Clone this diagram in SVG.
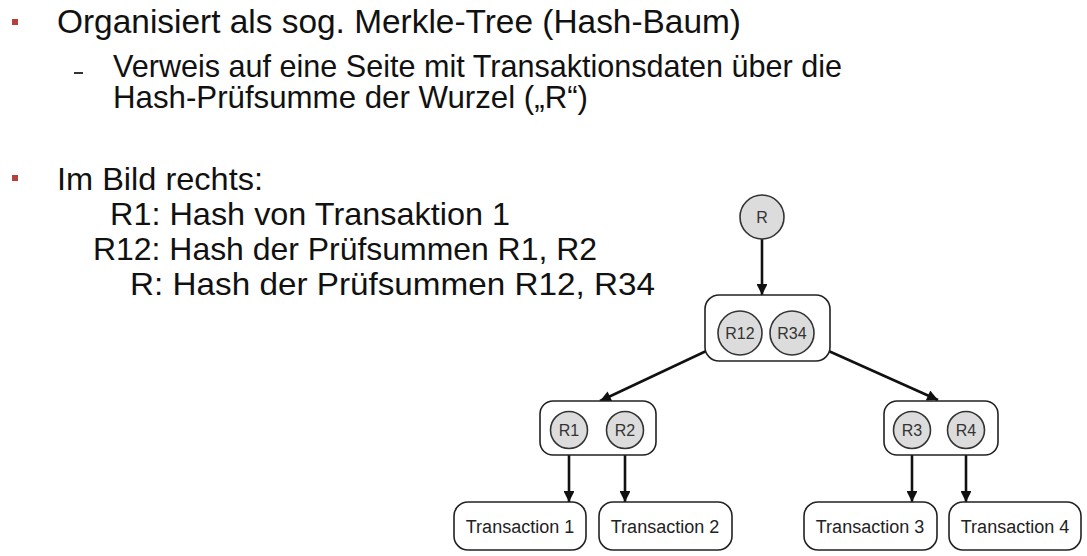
<svg xmlns="http://www.w3.org/2000/svg" width="1087" height="556" viewBox="0 0 1087 556">
<style>
.t1{font-family:"Liberation Sans",Arial,sans-serif;font-size:33px;fill:#111}
.t2{font-family:"Liberation Sans",Arial,sans-serif;font-size:30.5px;fill:#111}
.t3{font-family:"Liberation Sans",Arial,sans-serif;font-size:32px;fill:#111}
.bul{fill:#b5403c}
.circ{fill:#dcdcdc;stroke:#333;stroke-width:1.6}
.box{fill:#fff;stroke:#222;stroke-width:1.6}
.lbl{font-family:"Liberation Sans",Arial,sans-serif;font-size:16px;fill:#333;text-anchor:middle}
.tl{font-family:"Liberation Sans",Arial,sans-serif;font-size:18px;fill:#222;text-anchor:middle}
.arr{stroke:#111;stroke-width:2.6;fill:none;marker-end:url(#ah)}
</style>
<defs>
<marker id="ah" viewBox="0 0 10 10" refX="10" refY="5" markerWidth="4.6" markerHeight="4.2" orient="auto" markerUnits="strokeWidth">
<path d="M0,0 L10,5 L0,10 z" fill="#111"/>
</marker>
</defs>
<rect width="1087" height="556" fill="#fff"/>
<g id="text">
<rect class="bul" x="12" y="19" width="6" height="6"/>
<text class="t1" x="57" y="33" textLength="684" lengthAdjust="spacingAndGlyphs">Organisiert als sog. Merkle-Tree (Hash-Baum)</text>
<rect x="74" y="72" width="9" height="2" fill="#333"/>
<text class="t2" x="113" y="77" textLength="729" lengthAdjust="spacingAndGlyphs">Verweis auf eine Seite mit Transaktionsdaten über die</text>
<text class="t2" x="113" y="108" textLength="475" lengthAdjust="spacingAndGlyphs">Hash-Prüfsumme der Wurzel („R“)</text>
<rect class="bul" x="12" y="175" width="6" height="6"/>
<text class="t3" x="57" y="190" textLength="206" lengthAdjust="spacingAndGlyphs">Im Bild rechts:</text>
<text class="t3" x="110" y="225" textLength="400" lengthAdjust="spacingAndGlyphs">R1: Hash von Transaktion 1</text>
<text class="t3" x="93" y="260" textLength="504" lengthAdjust="spacingAndGlyphs">R12: Hash der Prüfsummen R1, R2</text>
<text class="t3" x="130" y="295" textLength="525" lengthAdjust="spacingAndGlyphs">R: Hash der Prüfsummen R12, R34</text>
</g>
<g id="connectors">
<line class="arr" x1="762" y1="239" x2="762" y2="295"/>
<line class="arr" x1="719" y1="345" x2="600" y2="401"/>
<line class="arr" x1="813" y1="344" x2="938" y2="400"/>
<line class="arr" x1="569" y1="449" x2="569" y2="502"/>
<line class="arr" x1="625" y1="449" x2="625" y2="502"/>
<line class="arr" x1="912" y1="449" x2="912" y2="502"/>
<line class="arr" x1="966" y1="449" x2="966" y2="502"/>
</g>
<g id="node-R">
<circle class="circ" cx="762" cy="217" r="22"/>
<text class="lbl" x="762" y="223">R</text>
</g>
<g id="node-R12R34">
<rect class="box" x="705" y="295" width="125" height="66" rx="14"/>
<circle class="circ" cx="740" cy="333" r="22"/>
<text class="lbl" x="740" y="339">R12</text>
<circle class="circ" cx="792" cy="333" r="22"/>
<text class="lbl" x="792" y="339">R34</text>
</g>
<g id="node-R1R2">
<rect class="box" x="540" y="401" width="116" height="54" rx="13"/>
<circle class="circ" cx="569" cy="430" r="18.5"/>
<text class="lbl" x="569" y="436">R1</text>
<circle class="circ" cx="625" cy="430" r="18.5"/>
<text class="lbl" x="625" y="436">R2</text>
</g>
<g id="node-R3R4">
<rect class="box" x="884" y="401" width="114" height="54" rx="13"/>
<circle class="circ" cx="912" cy="430" r="18.5"/>
<text class="lbl" x="912" y="436">R3</text>
<circle class="circ" cx="966" cy="430" r="18.5"/>
<text class="lbl" x="966" y="436">R4</text>
</g>
<g id="node-T1">
<rect class="box" x="454" y="502" width="132" height="48" rx="14"/>
<text class="tl" x="520" y="533">Transaction 1</text>
</g>
<g id="node-T2">
<rect class="box" x="599" y="502" width="133" height="48" rx="14"/>
<text class="tl" x="665" y="533">Transaction 2</text>
</g>
<g id="node-T3">
<rect class="box" x="804" y="502" width="133" height="48" rx="14"/>
<text class="tl" x="870" y="533">Transaction 3</text>
</g>
<g id="node-T4">
<rect class="box" x="949" y="502" width="132" height="48" rx="14"/>
<text class="tl" x="1015" y="533">Transaction 4</text>
</g>
</svg>
